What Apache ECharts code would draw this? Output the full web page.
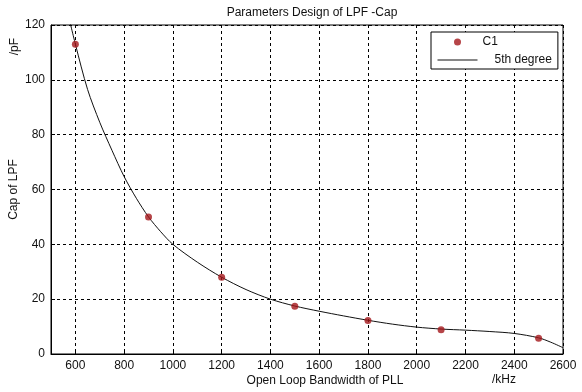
<!DOCTYPE html>
<html><head><meta charset="utf-8">
<script src="https://cdn.jsdelivr.net/npm/echarts@6/dist/echarts.min.js"></script>
<style>html,body{margin:0;padding:0;background:#fff}#c{width:582px;height:392px}</style>
</head><body><div id="c"></div>
<script>
// Measured capacitor values (C1)
const bandwidth = [600, 900, 1200, 1500, 1800, 2100, 2500];
const capC1 = [113, 50, 28, 17.4, 12.2, 8.8, 5.7];
// 5th degree fit curve
const fitX = [570, 600, 650, 700, 750, 800, 850, 900, 950, 1000, 1100, 1200, 1300, 1400, 1500, 1600, 1700, 1800, 1900, 2000, 2100, 2200, 2300, 2400, 2500, 2550, 2600];
const fitY = [124, 113, 96.5, 84.5, 74.3, 64.7, 56.8, 50, 44.6, 40, 33.5, 28, 23.5, 20, 17.5, 15.6, 13.9, 12.3, 10.9, 9.8, 9.1, 8.7, 8.2, 7.5, 5.9, 4.3, 2.3];
const title = 'Parameters Design of LPF -Cap';
const xName = 'Open Loop Bandwidth of PLL';
const yName = 'Cap of LPF';

const font = 'Liberation Sans, Arial, sans-serif';
const chart = echarts.init(document.getElementById('c'));
chart.setOption({
  animation: false,
  backgroundColor: '#fff',
  textStyle: {fontFamily: font},
  title: {text: title, left: 307, textAlign: 'center', top: 2,
    textStyle: {fontSize: 12, fontWeight: 'normal', color: '#111', fontFamily: font}},
  grid: {left: 51, right: 19, top: 25, bottom: 38, show: true, borderColor: '#000', borderWidth: 1,
    containLabel: false, outerBoundsMode: 'none'},
  legend: {
    orient: 'vertical', left: 431, top: 32, padding: [4, 6, 3, 6],
    itemWidth: 40, itemHeight: 7, itemGap: 6,
    borderColor: '#000', borderWidth: 1, backgroundColor: '#fff',
    textStyle: {fontSize: 12, color: '#111', fontFamily: font},
    data: [
      {name: 'C1', icon: 'circle'},
      {name: '5th degree', itemStyle: {opacity: 0}, lineStyle: {color: '#111', width: 1},
        textStyle: {padding: [0, 0, 0, 12]}}
    ]
  },
  xAxis: {
    type: 'value', min: 500, max: 2600, splitNumber: 10,
    name: xName, nameLocation: 'middle', nameGap: 21, nameMoveOverlap: false,
    nameTextStyle: {fontSize: 12, color: '#111', padding: [0, 0, 0, 36]},
    axisLine: {lineStyle: {color: '#000'}},
    axisTick: {inside: true, length: 4, lineStyle: {color: '#000'}},
    axisLabel: {showMinLabel: false, fontSize: 12, color: '#111', margin: 6,
      formatter: v => String(v)},
    splitLine: {show: true, lineStyle: {color: '#000', type: [3, 3], width: 1}}
  },
  yAxis: {
    type: 'value', min: 0, max: 120, interval: 20,
    name: yName, nameLocation: 'middle', nameGap: 31, nameMoveOverlap: false,
    nameTextStyle: {fontSize: 12, color: '#111'},
    axisLine: {lineStyle: {color: '#000'}},
    axisTick: {inside: true, length: 4, lineStyle: {color: '#000'}},
    axisLabel: {fontSize: 12, color: '#111', margin: 6},
    splitLine: {show: true, lineStyle: {color: '#000', type: [3, 3], width: 1}}
  },
  graphic: [
    {type: 'text', left: 9, top: 38, rotation: Math.PI / 2,
      style: {text: '/pF', fontSize: 12, fill: '#111', fontFamily: font}},
    {type: 'text', left: 492, top: 374,
      style: {text: '/kHz', fontSize: 12, fill: '#111', fontFamily: font}}
  ],
  series: [
    {name: '5th degree', type: 'line', data: fitX.map((x, i) => [x, fitY[i]]),
      smooth: 0.3, showSymbol: false, symbol: 'none', clip: true,
      itemStyle: {color: '#111'},
      lineStyle: {color: '#111', width: 1}, z: 2},
    {name: 'C1', type: 'scatter', data: bandwidth.map((x, i) => [x, capC1[i]]),
      symbol: 'circle', symbolSize: 7, itemStyle: {color: '#a4161a'}, z: 3}
  ]
});
</script></body></html>
